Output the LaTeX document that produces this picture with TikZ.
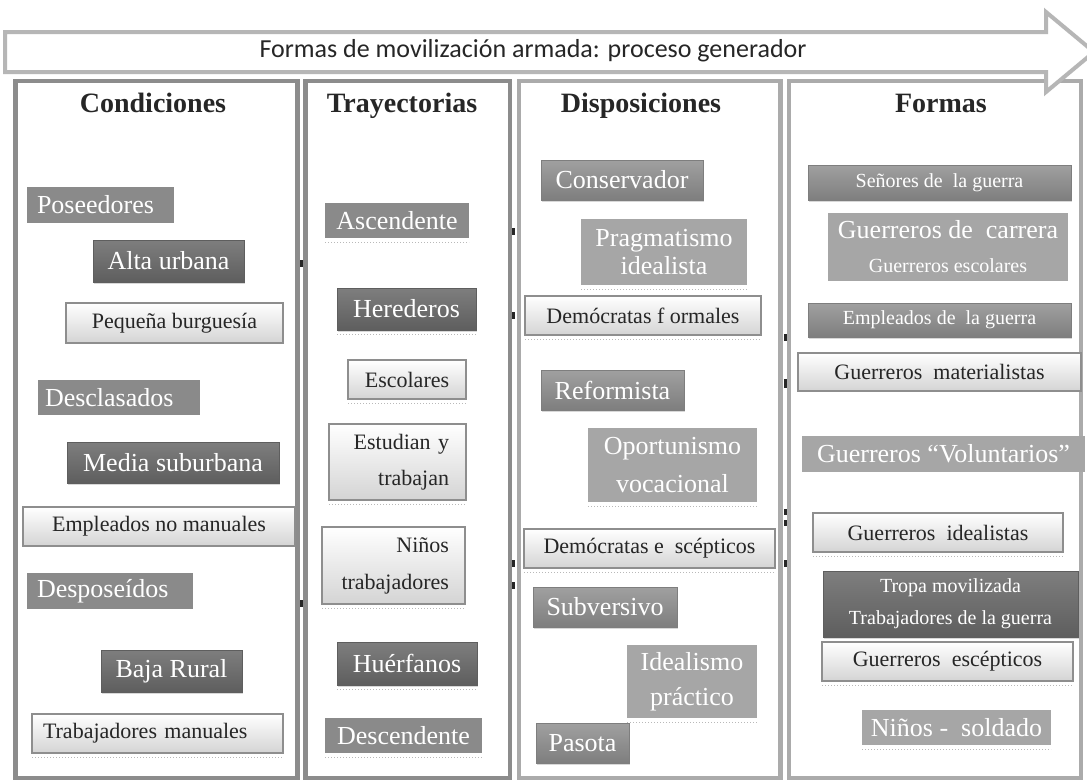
\documentclass[tikz,border=0pt]{standalone}
\usepackage{fontspec}
\setmainfont{Liberation Serif}
\newfontfamily\carlito{Carlito}
\usetikzlibrary{shadows}
\definecolor{flatA}{HTML}{8A8A8A}
\definecolor{flatB}{HTML}{A6A6A6}
\definecolor{darkT}{HTML}{7E7E7E}
\definecolor{darkB}{HTML}{5E5E5E}
\definecolor{midT}{HTML}{A0A0A0}
\definecolor{midB}{HTML}{7E7E7E}
\definecolor{lightB}{HTML}{D4D4D4}
\definecolor{lightD}{HTML}{8E8E8E}
\definecolor{frameA}{HTML}{8C8C8C}
\definecolor{frameB}{HTML}{ABABAB}
\definecolor{arrowC}{HTML}{B6B6B6}
\definecolor{inkC}{HTML}{262626}
\tikzset{
  base/.style={inner sep=0pt, outer sep=0pt, text=white, align=center,
    font=\fontsize{26}{30}\selectfont},
  flatbox/.style={base, fill=flatA},
  flatlight/.style={base, fill=flatB},
  darkbox/.style={base, top color=darkT, bottom color=darkB, draw=darkB, line width=0.8pt,
    drop shadow={opacity=0.3, shadow xshift=1pt, shadow yshift=-2pt}},
  midbox/.style={base, top color=midT, bottom color=midB, draw=midB, line width=0.8pt,
    drop shadow={opacity=0.3, shadow xshift=1pt, shadow yshift=-2pt}},
  lightbox/.style={inner sep=0pt, outer sep=0pt, text=inkC, align=center,
    font=\fontsize{22}{26}\selectfont, top color=white, bottom color=lightB,
    draw=lightD, line width=2.5pt},
  colA/.style={draw=frameA, line width=4.5pt},
  colB/.style={draw=frameB, line width=4.5pt},
  header/.style={font=\bfseries\fontsize{28}{32}\selectfont, text=inkC, inner sep=0pt, anchor=base},
  refl/.style={draw=gray!55, dotted, line width=1pt},
  tick/.style={fill=black!85}
}
\begin{document}
\begin{tikzpicture}[x=1pt, y=-1pt]
\useasboundingbox (0,0) rectangle (1087,780);
\fill[white] (0,0) rectangle (1087,780);

% columns
\draw[colA] (15.5,81) rectangle (297.5,778);
\draw[colA] (305.5,81) rectangle (510,778);
\draw[colB] (519,81) rectangle (780.5,778);
\draw[colB] (789,81) rectangle (1081,778);

% process arrow
\draw[draw=arrowC, line width=4pt, fill=white, line join=miter]
  (5,32) -- (1046,32) -- (1046,12) -- (1094,52) -- (1046,92) -- (1046,72) -- (5,72) -- cycle;
\node[inner sep=0pt, text=inkC, font=\carlito\fontsize{26}{30}\selectfont] (title) at (533,51)
  {Formas de movilización armada: proceso generador};

% headers
\node[header] (h1) at (153,112) {Condiciones};
\node[header] (h2) at (402,112) {Trayectorias};
\node[header] (h3) at (641,112) {Disposiciones};
\node[header] (h4) at (941,112) {Formas};

% column 1
\node[flatbox, text width=127pt, align=left, inner xsep=10pt, minimum height=36pt] (pos) at (100.5,205) {Poseedores};
\node[darkbox, minimum width=151pt, minimum height=42pt] (alta) at (168.5,261) {Alta urbana};
\node[lightbox, minimum width=217pt, minimum height=40pt] (peq) at (174.5,323) {Pequeña burguesía};
\node[flatbox, text width=148pt, align=left, inner xsep=7pt, minimum height=35pt] (descl) at (119,397.5) {Desclasados};
\node[darkbox, minimum width=212pt, minimum height=41pt] (media) at (173,462.5) {Media suburbana};
\node[lightbox, minimum width=272pt, minimum height=39pt] (empl) at (159,526.5) {Empleados no manuales};
\node[flatbox, text width=146pt, align=left, inner xsep=10pt, minimum height=36pt] (despo) at (110,591) {Desposeídos};
\node[darkbox, minimum width=141pt, minimum height=42pt] (baja) at (171.5,671) {Baja Rural};
\node[lightbox, text width=229pt, align=left, inner xsep=11pt, minimum height=39pt] (trabm) at (157.5,733.5) {Trabajadores manuales};

% column 2
\node[flatbox, minimum width=144pt, minimum height=35pt] (asc) at (397,220.5) {Ascendente};
\node[darkbox, minimum width=139pt, minimum height=42pt] (her) at (406.5,309) {Herederos};
\node[lightbox, minimum width=118pt, minimum height=39pt] (esc) at (407,379.5) {Escolares};
\node[lightbox, text width=103pt, align=right, inner xsep=17pt, minimum height=76pt,
  font=\fontsize{22}{36}\selectfont] (estud) at (397.5,462) {Estudian y\\trabajan};
\node[lightbox, text width=111pt, align=right, inner xsep=16pt, minimum height=77pt,
  font=\fontsize{22}{37}\selectfont] (ninos) at (393.5,565.5) {Niños\\trabajadores};
\node[darkbox, minimum width=140pt, minimum height=43pt] (huer) at (407,663.5) {Huérfanos};
\node[flatbox, minimum width=157pt, minimum height=35pt] (desc) at (403.5,735.5) {Descendente};

% column 3
\node[midbox, minimum width=162pt, minimum height=40pt] (cons) at (622,180) {Conservador};
\node[flatlight, minimum width=166pt, minimum height=66pt, font=\fontsize{26}{28}\selectfont] (prag) at (664,252) {Pragmatismo\\idealista};
\node[lightbox, minimum width=236pt, minimum height=39pt] (demf) at (643,315.5) {Demócratas f\ ormales};
\node[midbox, minimum width=143pt, minimum height=40pt] (ref) at (612.5,390) {Reformista};
\node[flatlight, minimum width=169pt, minimum height=74pt, font=\fontsize{26}{38}\selectfont] (opo) at (672.5,465) {Oportunismo\\vocacional};
\node[lightbox, minimum width=251pt, minimum height=39pt] (deme) at (649.5,548.5) {Demócratas e\ \ scépticos};
\node[midbox, minimum width=144pt, minimum height=40pt] (subv) at (605,607) {Subversivo};
\node[flatlight, minimum width=130pt, minimum height=73pt, font=\fontsize{26}{35}\selectfont] (ideal) at (692,681.5) {Idealismo\\práctico};
\node[midbox, minimum width=93pt, minimum height=40pt] (pas) at (582.5,743) {Pasota};

% column 4
\node[midbox, minimum width=263pt, minimum height=35pt, font=\fontsize{20}{24}\selectfont] (sen) at (939.5,182.5) {Señores de\ \ la guerra};
\node[flatlight, minimum width=240pt, minimum height=68pt, font=\fontsize{26}{34}\selectfont] (gcar) at (948,247) {Guerreros de\ \ carrera\\{\fontsize{20}{34}\selectfont Guerreros escolares}};
\node[midbox, minimum width=263pt, minimum height=34pt, font=\fontsize{20}{24}\selectfont] (empg) at (939.5,320) {Empleados de\ \ la guerra};
\node[lightbox, minimum width=283pt, minimum height=38pt] (gmat) at (939.5,372) {Guerreros\ \ materialistas};
\node[flatlight, minimum width=283pt, minimum height=36pt] (gvol) at (943.5,454) {Guerreros “Voluntarios”};
\node[lightbox, minimum width=250pt, minimum height=39pt] (gid) at (938,532.5) {Guerreros\ \ idealistas};
\node[darkbox, minimum width=255pt, minimum height=66pt, font=\fontsize{20}{32}\selectfont] (tropa) at (950.5,604) {Tropa movilizada\\Trabajadores de la guerra};
\node[lightbox, minimum width=251pt, minimum height=39pt] (gesc) at (947.5,661.5) {Guerreros\ \ escépticos};
\node[flatlight, minimum width=189pt, minimum height=35pt] (nsold) at (956.5,727.5) {Niños -\ \ soldado};

% faint reflections under boxes
\foreach \b in {asc,her,esc,estud,ninos,huer,desc,prag,demf,opo,deme,ideal,trabm,gid,gesc,nsold}{
  \draw[refl] ([yshift=-4pt]\b.south west) -- ([yshift=-4pt]\b.south east);
}

% small marks on the column borders
\foreach \x/\y/\h in {301/263/7, 301/603/7, 513/231/7, 513/315/7, 513/563/7, 513/585/7,
                      785/337/7, 785/383/9, 785/512/6, 785/523/6, 785/563/7}{
  \fill[tick] (\x-1.5,\y-\h/2) rectangle (\x+1.5,\y+\h/2);
}
\end{tikzpicture}
\end{document}
